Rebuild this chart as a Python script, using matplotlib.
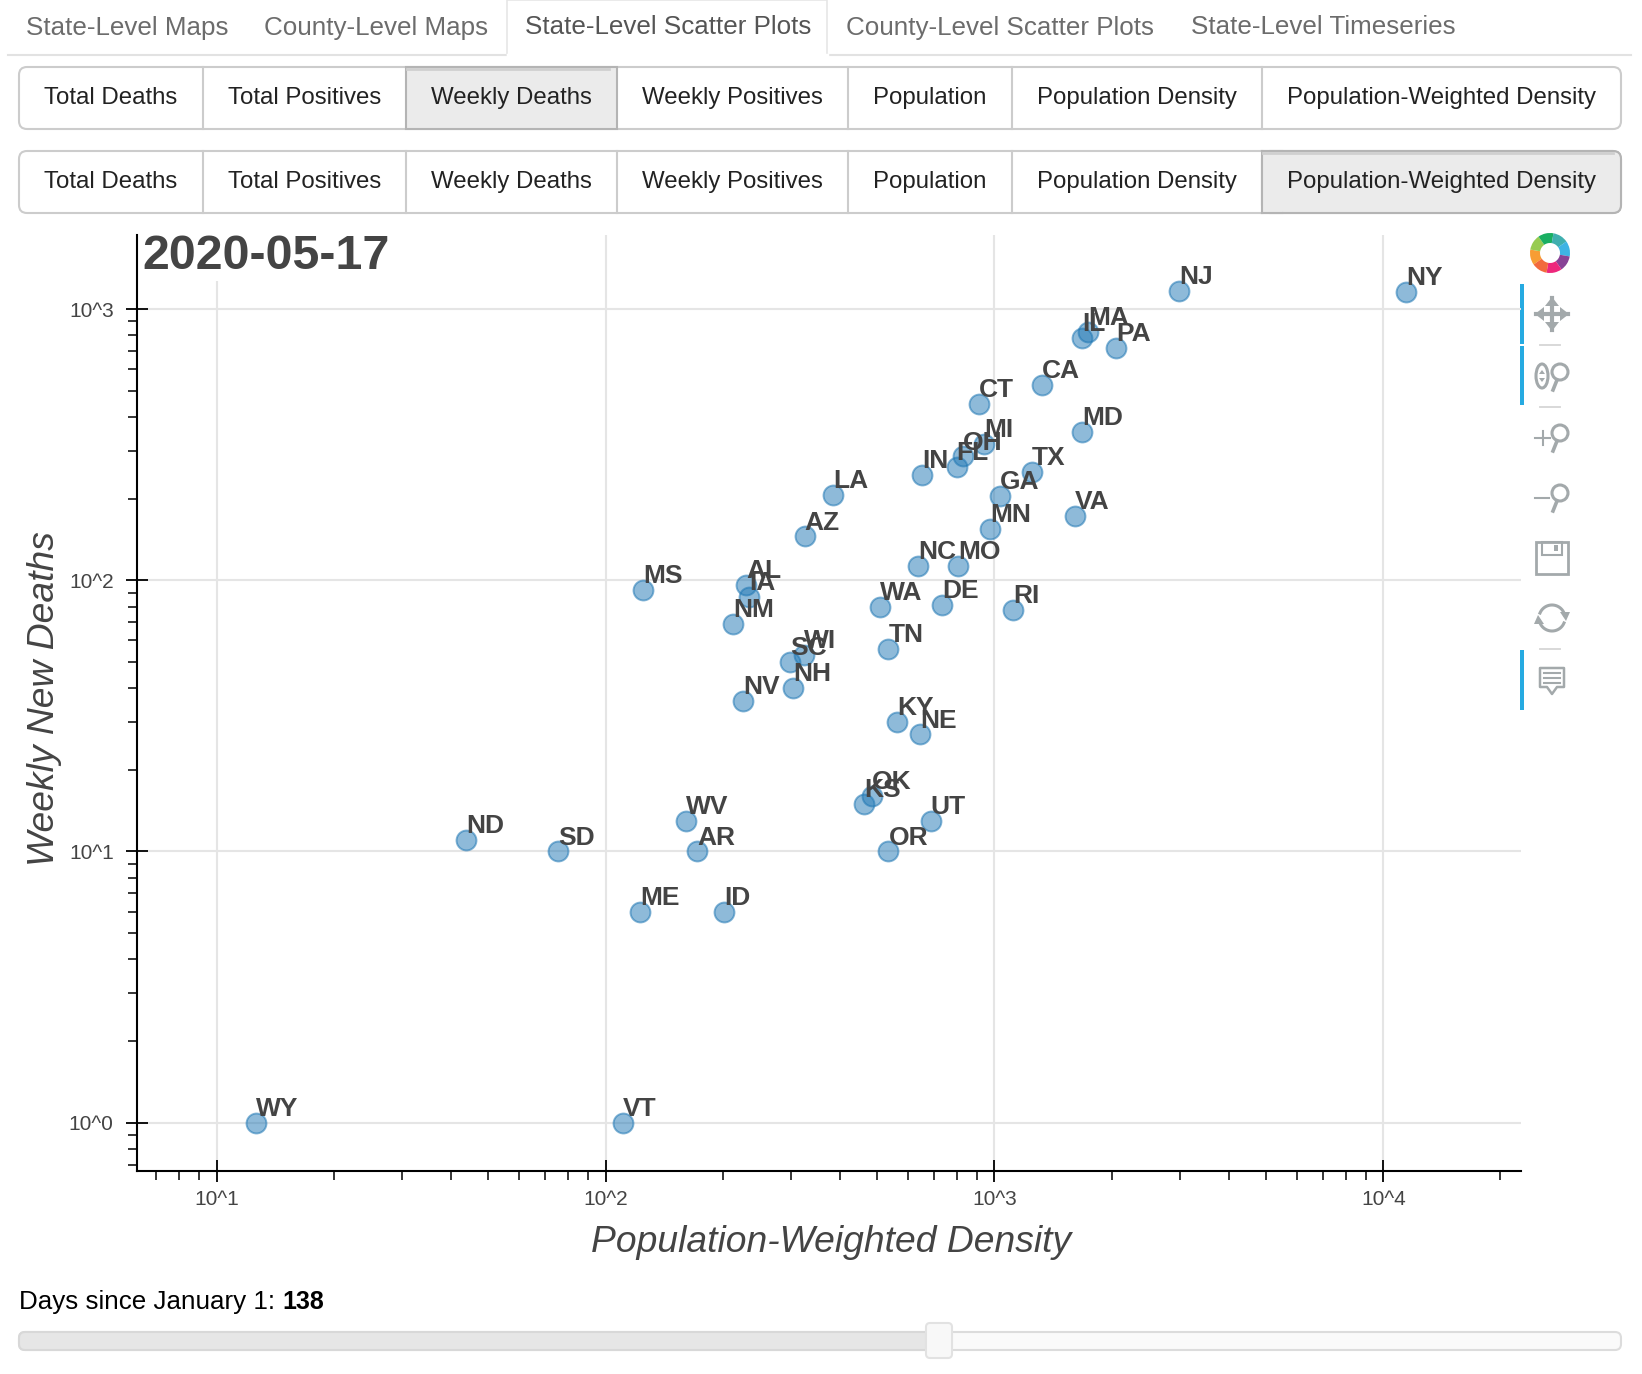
import numpy as np
import matplotlib
matplotlib.use("Agg")
import matplotlib.pyplot as plt
from matplotlib.patches import FancyBboxPatch, Rectangle, Circle, Wedge, Polygon, Ellipse
from matplotlib.ticker import FuncFormatter, LogLocator, NullFormatter

plt.rcParams['font.family'] = ['Liberation Sans', 'DejaVu Sans']

states = ['NY', 'NJ', 'MA', 'IL', 'PA', 'CA', 'CT', 'MD', 'MI', 'OH', 'FL', 'IN', 'TX', 'LA', 'GA', 'VA',
          'MN', 'AZ', 'NC', 'MO', 'AL', 'MS', 'IA', 'WA', 'DE', 'RI', 'NM', 'TN', 'WI', 'SC', 'NH', 'NV',
          'KY', 'NE', 'OK', 'KS', 'WV', 'UT', 'ND', 'SD', 'AR', 'OR', 'ME', 'ID', 'WY', 'VT']
density = [11460, 2981, 1738, 1684, 2054, 1322, 911, 1684, 940, 830, 800, 652, 1250, 385, 1031, 1614,
           975, 325, 636, 805, 230, 125, 234, 508, 735, 1119, 213, 534, 323, 298, 304, 226,
           561, 645, 484, 463, 161, 685, 43.8, 75.6, 172, 534, 123, 202, 12.6, 111]
deaths = [1153, 1164, 822, 780, 720, 523, 445, 353, 318, 286, 261, 245, 250, 207, 204, 172,
          155, 145, 113, 113, 96, 92, 87, 80, 81, 78, 69, 56, 53, 50, 40, 36,
          30, 27, 16, 15, 13, 13, 11, 10, 10, 10, 6, 6, 1, 1]

nav_tabs = ['State-Level Maps', 'County-Level Maps', 'State-Level Scatter Plots',
            'County-Level Scatter Plots', 'State-Level Timeseries']
nav_left = [26, 264, 525, 846, 1191]
buttons = ['Total Deaths', 'Total Positives', 'Weekly Deaths', 'Weekly Positives',
           'Population', 'Population Density', 'Population-Weighted Density']
button_edges = [19, 203, 406, 617, 848, 1012, 1262, 1621]

W, H = 1642, 1374
fig = plt.figure(figsize=(W / 100, H / 100), dpi=100)

# page furniture lives in an axes that is simply pixel coords
ui = fig.add_axes([0, 0, 1, 1])
ui.set_xlim(0, W)
ui.set_ylim(H, 0)
ui.axis('off')

# tabs
ui.plot([8, 1631], [54.5, 54.5], color='#e2e2e2', lw=1.5)
ui.add_patch(Rectangle((507, 0), 320, 55, fc='white', ec='#e6e6e6', lw=1.2, zorder=2))
ui.plot([507.5, 826.5], [55, 55], color='white', lw=2.5, zorder=3)
for i, (name, left) in enumerate(zip(nav_tabs, nav_left)):
    ui.text(left, 27.5, name, fontsize=18.7, color='#555555' if i == 2 else '#6c6c6c',
            va='center', ha='left', zorder=4)


def button_row(top, bottom, active):
    ui.add_patch(FancyBboxPatch((button_edges[0], top), button_edges[-1] - button_edges[0], bottom - top,
                                boxstyle='round,pad=0,rounding_size=8', fc='white', ec='#cccccc', lw=1.5))
    left, right = button_edges[active], button_edges[active + 1]
    if active == len(buttons) - 1:
        # last button only has its right corners rounded
        ui.add_patch(FancyBboxPatch((left, top), right - left, bottom - top,
                                    boxstyle='round,pad=0,rounding_size=8', fc='#ebebeb', ec='#b4b4b4', lw=1.5))
        ui.add_patch(Rectangle((left, top), 20, bottom - top, fc='#ebebeb', ec='none'))
        ui.plot([left, left + 20], [top, top], color='#b4b4b4', lw=1.5)
        ui.plot([left, left + 20], [bottom, bottom], color='#b4b4b4', lw=1.5)
        ui.plot([left, left], [top, bottom], color='#b4b4b4', lw=1.5)
    else:
        ui.add_patch(Rectangle((left, top), right - left, bottom - top, fc='#ebebeb', ec='#b4b4b4', lw=1.5))
    ui.plot([left + 1, right - 8], [top + 2, top + 2], color='#cfcfcf', lw=2)
    for x in button_edges[1:-1]:
        if x not in (left, right):
            ui.plot([x, x], [top, bottom], color='#cccccc', lw=1.5)
    for i, name in enumerate(buttons):
        ui.text((button_edges[i] + button_edges[i + 1]) / 2, (top + bottom) / 2, name,
                fontsize=17.3, color='#222222', ha='center', va='center')


button_row(67, 129, 2)
button_row(151, 213, 6)

# slider
ui.text(19, 1302, 'Days since January 1: ', fontsize=18.7, color='black', va='center')
ui.text(282, 1302, '138', fontsize=18, fontweight='bold', color='black', va='center')
ui.add_patch(FancyBboxPatch((19, 1332), 1602, 18, boxstyle='round,pad=0,rounding_size=6',
                            fc='#fafafa', ec='#dcdcdc', lw=1.5))
ui.add_patch(FancyBboxPatch((19, 1332), 920, 18, boxstyle='round,pad=0,rounding_size=6',
                            fc='#e6e6e6', ec='#d8d8d8', lw=1.5))
ui.add_patch(FancyBboxPatch((926, 1323), 26, 35, boxstyle='round,pad=0,rounding_size=4',
                            fc='#f8f8f8', ec='#e2e2e2', lw=1.5, zorder=3))

# bokeh toolbar
ICON = '#a3a9ab'
for y0, y1 in [(284, 344), (346, 405), (650, 710)]:
    ui.add_patch(Rectangle((1520, y0), 4, y1 - y0, fc='#26aae1', ec='none', zorder=5))
for y in [345, 407, 649]:
    ui.plot([1540, 1560], [y, y], color='#d5d5d5', lw=1.3)

logo = ['#f7931e', '#8cc63f', '#00a651', '#2ba6a6', '#29abe2', '#7b2d8b', '#ec0f6e', '#f15a29']
for i, c in enumerate(logo):
    # the ui axes has y flipped, so wedge angles run clockwise on screen
    ui.add_patch(Wedge((1550, 253), 20, 145 + i * 45, 190 + i * 45, width=10, fc=c, ec='none', alpha=0.9))

# move
ui.plot([1552, 1552], [298, 330], color=ICON, lw=3)
ui.plot([1536, 1568], [314, 314], color=ICON, lw=3)
for pts in [[(1552, 297), (1545, 306), (1559, 306)], [(1552, 331), (1545, 322), (1559, 322)],
            [(1535, 314), (1544, 307), (1544, 321)], [(1569, 314), (1560, 307), (1560, 321)]]:
    ui.add_patch(Polygon(pts, fc=ICON, ec='none'))


def magnifier(yc):
    ui.add_patch(Circle((1560, yc - 4), 8, fc='none', ec=ICON, lw=2.2))
    ui.plot([1557, 1553], [yc + 4, yc + 14], color=ICON, lw=2.6)


magnifier(376)
ui.add_patch(Ellipse((1542, 376), 12, 24, fc='none', ec=ICON, lw=2.2))
ui.add_patch(Polygon([(1542, 370), (1539, 374), (1545, 374)], fc=ICON, ec='none'))
ui.add_patch(Polygon([(1542, 382), (1539, 378), (1545, 378)], fc=ICON, ec='none'))
magnifier(437)
ui.plot([1535, 1550], [438, 438], color=ICON, lw=1.5)
ui.plot([1542.5, 1542.5], [431, 445], color=ICON, lw=1.5)
magnifier(497)
ui.plot([1535, 1549], [498, 498], color=ICON, lw=1.5)

# save
ui.add_patch(Rectangle((1536, 542), 32, 32, fc='none', ec=ICON, lw=2))
ui.add_patch(Rectangle((1542, 542), 20, 13, fc='none', ec=ICON, lw=1.5))
ui.add_patch(Rectangle((1554, 545), 4, 6, fc=ICON, ec='none'))

# reset
t = np.linspace(0.25, 2.75, 30)
ui.plot(1552 + 13 * np.cos(t), 618 - 13 * np.sin(t), color=ICON, lw=2.2)
ui.plot(1552 - 13 * np.cos(t), 618 + 13 * np.sin(t), color=ICON, lw=2.2)
ui.add_patch(Polygon([(1560, 612), (1570, 612), (1566, 621)], fc=ICON, ec='none'))
ui.add_patch(Polygon([(1534, 624), (1544, 624), (1538, 615)], fc=ICON, ec='none'))

# hover
ui.add_patch(Polygon([(1540, 668), (1564, 668), (1564, 687), (1557, 687), (1552, 694), (1547, 687), (1540, 687)],
                     fc='none', ec=ICON, lw=1.8, joinstyle='round'))
for y in [673, 678, 683]:
    ui.plot([1544, 1560], [y, y], color=ICON, lw=1.5)

# the scatter itself
ax_left, ax_right, ax_top, ax_bottom = 137.3, 1521, 235, 1170.7
ax = fig.add_axes([ax_left / W, 1 - ax_bottom / H, (ax_right - ax_left) / W, (ax_bottom - ax_top) / H])
ax.patch.set_alpha(0)
ax.set_xscale('log')
ax.set_yscale('log')
ax.set_xlim(10 ** 0.796, 10 ** 4.354)
ax.set_ylim(10 ** -0.177, 10 ** 3.273)
ax.set_axisbelow(True)

ax.scatter(density, deaths, s=205, facecolor=(0.122, 0.467, 0.706, 0.5),
           edgecolor=(0.122, 0.467, 0.706, 0.55), linewidth=1.4, zorder=3, clip_on=False)
for name, x, y in zip(states, density, deaths):
    ax.annotate(name, (x, y), xytext=(0, 5), textcoords='offset points', fontsize=19,
                fontweight='bold', color='#444444', va='baseline', ha='left', zorder=4)

ax.grid(True, which='major', color='#e5e5e5', lw=1.5)
ax.add_patch(Rectangle((0, 0.9505), 0.2, 0.0495, transform=ax.transAxes, fc='white', ec='none', zorder=1))
ax.text(0.0035, 0.9765, '2020-05-17', transform=ax.transAxes, fontsize=34.8, fontweight='bold',
        color='#444444', va='center', ha='left', zorder=5)

for side in ['top', 'right']:
    ax.spines[side].set_visible(False)
for side in ['left', 'bottom']:
    ax.spines[side].set_linewidth(1.5)

fmt = FuncFormatter(lambda v, pos: '10^%d' % round(np.log10(v)))
for axis in [ax.xaxis, ax.yaxis]:
    axis.set_major_locator(LogLocator(base=10, numticks=10))
    axis.set_minor_locator(LogLocator(base=10, subs=np.arange(2, 10) * 1.0, numticks=10))
    axis.set_major_formatter(fmt)
    axis.set_minor_formatter(NullFormatter())
ax.tick_params(axis='both', which='major', direction='inout', length=16, width=1.3, labelsize=15,
               labelcolor='#444444', pad=7)
ax.tick_params(axis='x', which='major', pad=6)
ax.tick_params(axis='y', which='major', pad=9)
ax.tick_params(axis='both', which='minor', direction='out', length=6.5, width=1.1)

ui.text(831, 1242, 'Population-Weighted Density', fontsize=26.8, style='italic', color='#444444',
        ha='center', va='center')
ui.text(45, 699, 'Weekly New Deaths', fontsize=26.8, style='italic', color='#444444',
        ha='center', va='center', rotation=90)

fig.savefig('out.png', dpi=100, facecolor='white')
